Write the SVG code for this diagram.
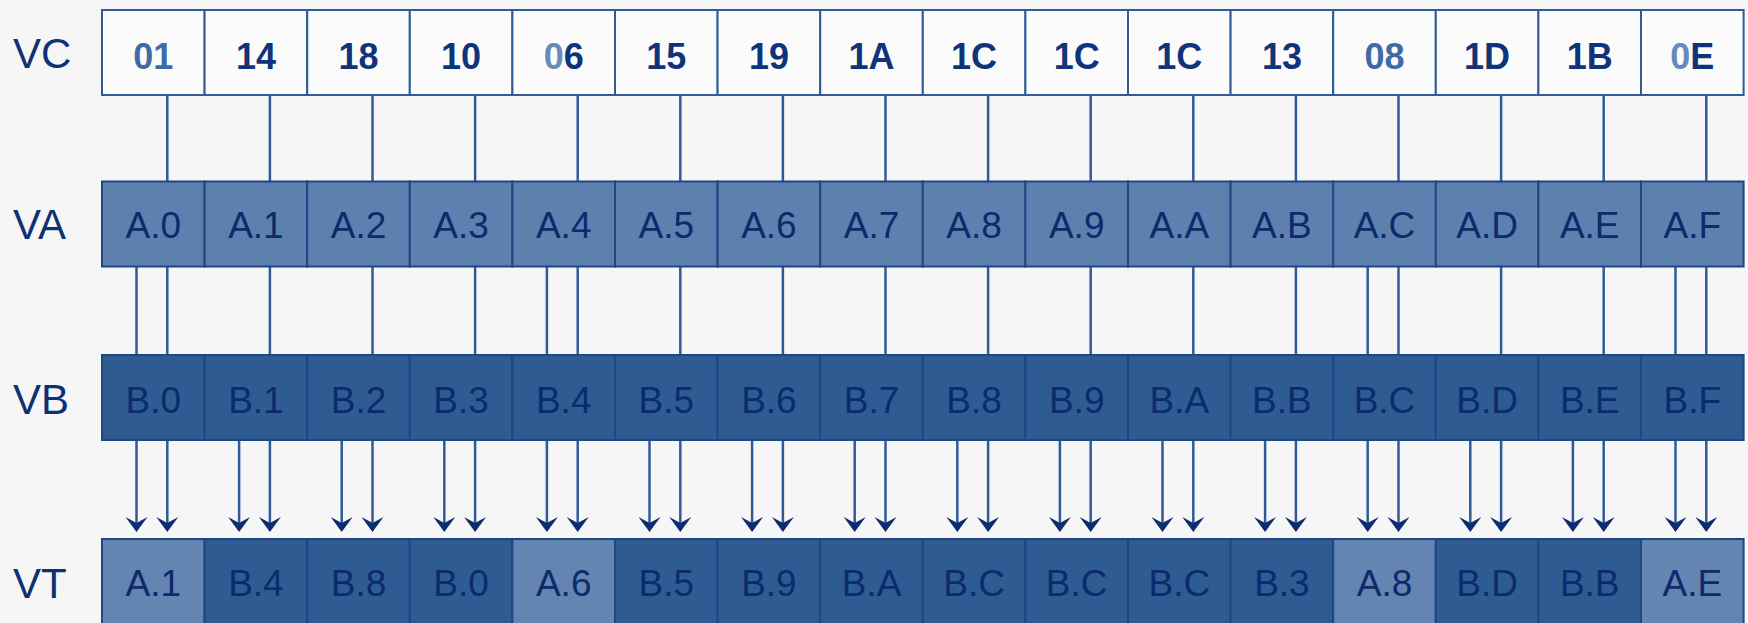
<svg xmlns="http://www.w3.org/2000/svg" width="1748" height="623" viewBox="0 0 1748 623">
<style>
.lbl{font-family:"Liberation Sans",Arial,sans-serif;font-size:42px;fill:#0e3173}
.c{stroke:#1d4785;stroke-width:2}
.vc{fill:#fbfbfb;stroke:#2f5c97;stroke-width:2}
.va{fill:#5e80ae}
.vb{fill:#2e5b92}
.ta{fill:#6484b1}
.t{font-family:"Liberation Sans",Arial,sans-serif;font-size:37px;fill:#0b2b6c;text-anchor:middle}
.b{font-family:"Liberation Sans",Arial,sans-serif;font-size:36px;font-weight:bold;fill:#10347a;text-anchor:middle}
.lt{fill:#6889b9}
.md{fill:#3f6ba5}
.ln{stroke:#2e5b98;stroke-width:2.5;fill:none}
.ar{marker-end:url(#ah)}
</style>
<defs>
<marker id="ah" markerUnits="userSpaceOnUse" viewBox="-16 -12 17 24" markerWidth="17" markerHeight="24" refX="-6" refY="0" orient="auto" overflow="visible">
<path d="M0,0 L-15,-11 L-9,0 L-15,11 Z" fill="#0c2d6e"/>
</marker>
</defs>
<rect x="0" y="0" width="1748" height="623" fill="#f6f6f7"/>

<g id="labels">
<text class="lbl" x="13" y="68">VC</text>
<text class="lbl" x="13" y="239">VA</text>
<text class="lbl" x="13" y="414">VB</text>
<text class="lbl" x="13" y="598">VT</text>
</g>

<g id="connectors">
<!-- VC to VA -->
<g class="ln">
<line x1="167.3" y1="95" x2="167.3" y2="181.5"/>
<line x1="269.9" y1="95" x2="269.9" y2="181.5"/>
<line x1="372.5" y1="95" x2="372.5" y2="181.5"/>
<line x1="475.1" y1="95" x2="475.1" y2="181.5"/>
<line x1="577.7" y1="95" x2="577.7" y2="181.5"/>
<line x1="680.3" y1="95" x2="680.3" y2="181.5"/>
<line x1="782.9" y1="95" x2="782.9" y2="181.5"/>
<line x1="885.5" y1="95" x2="885.5" y2="181.5"/>
<line x1="988.1" y1="95" x2="988.1" y2="181.5"/>
<line x1="1090.7" y1="95" x2="1090.7" y2="181.5"/>
<line x1="1193.3" y1="95" x2="1193.3" y2="181.5"/>
<line x1="1295.9" y1="95" x2="1295.9" y2="181.5"/>
<line x1="1398.5" y1="95" x2="1398.5" y2="181.5"/>
<line x1="1501.1" y1="95" x2="1501.1" y2="181.5"/>
<line x1="1603.7" y1="95" x2="1603.7" y2="181.5"/>
<line x1="1706.3" y1="95" x2="1706.3" y2="181.5"/>
</g>
<!-- VA to VB -->
<g class="ln">
<line x1="136.5" y1="266.5" x2="136.5" y2="355"/>
<line x1="167.3" y1="266.5" x2="167.3" y2="355"/>
<line x1="269.9" y1="266.5" x2="269.9" y2="355"/>
<line x1="372.5" y1="266.5" x2="372.5" y2="355"/>
<line x1="475.1" y1="266.5" x2="475.1" y2="355"/>
<line x1="546.9" y1="266.5" x2="546.9" y2="355"/>
<line x1="577.7" y1="266.5" x2="577.7" y2="355"/>
<line x1="680.3" y1="266.5" x2="680.3" y2="355"/>
<line x1="782.9" y1="266.5" x2="782.9" y2="355"/>
<line x1="885.5" y1="266.5" x2="885.5" y2="355"/>
<line x1="988.1" y1="266.5" x2="988.1" y2="355"/>
<line x1="1090.7" y1="266.5" x2="1090.7" y2="355"/>
<line x1="1193.3" y1="266.5" x2="1193.3" y2="355"/>
<line x1="1295.9" y1="266.5" x2="1295.9" y2="355"/>
<line x1="1367.7" y1="266.5" x2="1367.7" y2="355"/>
<line x1="1398.5" y1="266.5" x2="1398.5" y2="355"/>
<line x1="1501.1" y1="266.5" x2="1501.1" y2="355"/>
<line x1="1603.7" y1="266.5" x2="1603.7" y2="355"/>
<line x1="1675.5" y1="266.5" x2="1675.5" y2="355"/>
<line x1="1706.3" y1="266.5" x2="1706.3" y2="355"/>
</g>
<!-- VB to VT -->
<g class="ln ar">
<line x1="136.5" y1="440" x2="136.5" y2="526"/>
<line x1="167.3" y1="440" x2="167.3" y2="526"/>
<line x1="239.1" y1="440" x2="239.1" y2="526"/>
<line x1="269.9" y1="440" x2="269.9" y2="526"/>
<line x1="341.7" y1="440" x2="341.7" y2="526"/>
<line x1="372.5" y1="440" x2="372.5" y2="526"/>
<line x1="444.3" y1="440" x2="444.3" y2="526"/>
<line x1="475.1" y1="440" x2="475.1" y2="526"/>
<line x1="546.9" y1="440" x2="546.9" y2="526"/>
<line x1="577.7" y1="440" x2="577.7" y2="526"/>
<line x1="649.5" y1="440" x2="649.5" y2="526"/>
<line x1="680.3" y1="440" x2="680.3" y2="526"/>
<line x1="752.1" y1="440" x2="752.1" y2="526"/>
<line x1="782.9" y1="440" x2="782.9" y2="526"/>
<line x1="854.7" y1="440" x2="854.7" y2="526"/>
<line x1="885.5" y1="440" x2="885.5" y2="526"/>
<line x1="957.3" y1="440" x2="957.3" y2="526"/>
<line x1="988.1" y1="440" x2="988.1" y2="526"/>
<line x1="1059.9" y1="440" x2="1059.9" y2="526"/>
<line x1="1090.7" y1="440" x2="1090.7" y2="526"/>
<line x1="1162.5" y1="440" x2="1162.5" y2="526"/>
<line x1="1193.3" y1="440" x2="1193.3" y2="526"/>
<line x1="1265.1" y1="440" x2="1265.1" y2="526"/>
<line x1="1295.9" y1="440" x2="1295.9" y2="526"/>
<line x1="1367.7" y1="440" x2="1367.7" y2="526"/>
<line x1="1398.5" y1="440" x2="1398.5" y2="526"/>
<line x1="1470.3" y1="440" x2="1470.3" y2="526"/>
<line x1="1501.1" y1="440" x2="1501.1" y2="526"/>
<line x1="1572.9" y1="440" x2="1572.9" y2="526"/>
<line x1="1603.7" y1="440" x2="1603.7" y2="526"/>
<line x1="1675.5" y1="440" x2="1675.5" y2="526"/>
<line x1="1706.3" y1="440" x2="1706.3" y2="526"/>
</g>
</g>

<g id="VC">
<g id="vc0"><rect class="vc" x="102" y="10" width="102.6" height="85"/><text class="b" x="153.3" y="69"><tspan class="md">01</tspan></text></g>
<g id="vc1"><rect class="vc" x="204.6" y="10" width="102.6" height="85"/><text class="b" x="255.9" y="69">14</text></g>
<g id="vc2"><rect class="vc" x="307.2" y="10" width="102.6" height="85"/><text class="b" x="358.5" y="69">18</text></g>
<g id="vc3"><rect class="vc" x="409.8" y="10" width="102.6" height="85"/><text class="b" x="461.1" y="69">10</text></g>
<g id="vc4"><rect class="vc" x="512.4" y="10" width="102.6" height="85"/><text class="b" x="563.7" y="69"><tspan class="lt">0</tspan>6</text></g>
<g id="vc5"><rect class="vc" x="615" y="10" width="102.6" height="85"/><text class="b" x="666.3" y="69">15</text></g>
<g id="vc6"><rect class="vc" x="717.6" y="10" width="102.6" height="85"/><text class="b" x="768.9" y="69">19</text></g>
<g id="vc7"><rect class="vc" x="820.2" y="10" width="102.6" height="85"/><text class="b" x="871.5" y="69">1A</text></g>
<g id="vc8"><rect class="vc" x="922.8" y="10" width="102.6" height="85"/><text class="b" x="974.1" y="69">1C</text></g>
<g id="vc9"><rect class="vc" x="1025.4" y="10" width="102.6" height="85"/><text class="b" x="1076.7" y="69">1C</text></g>
<g id="vc10"><rect class="vc" x="1128" y="10" width="102.6" height="85"/><text class="b" x="1179.3" y="69">1C</text></g>
<g id="vc11"><rect class="vc" x="1230.6" y="10" width="102.6" height="85"/><text class="b" x="1281.9" y="69">13</text></g>
<g id="vc12"><rect class="vc" x="1333.2" y="10" width="102.6" height="85"/><text class="b" x="1384.5" y="69"><tspan class="md">08</tspan></text></g>
<g id="vc13"><rect class="vc" x="1435.8" y="10" width="102.6" height="85"/><text class="b" x="1487.1" y="69">1D</text></g>
<g id="vc14"><rect class="vc" x="1538.4" y="10" width="102.6" height="85"/><text class="b" x="1589.7" y="69">1B</text></g>
<g id="vc15"><rect class="vc" x="1641" y="10" width="102.6" height="85"/><text class="b" x="1692.3" y="69"><tspan class="lt">0</tspan>E</text></g>
</g>

<g id="VA">
<g id="va0"><rect class="va c" x="102" y="181.5" width="102.6" height="85"/><text class="t" x="153.3" y="238">A.0</text></g>
<g id="va1"><rect class="va c" x="204.6" y="181.5" width="102.6" height="85"/><text class="t" x="255.9" y="238">A.1</text></g>
<g id="va2"><rect class="va c" x="307.2" y="181.5" width="102.6" height="85"/><text class="t" x="358.5" y="238">A.2</text></g>
<g id="va3"><rect class="va c" x="409.8" y="181.5" width="102.6" height="85"/><text class="t" x="461.1" y="238">A.3</text></g>
<g id="va4"><rect class="va c" x="512.4" y="181.5" width="102.6" height="85"/><text class="t" x="563.7" y="238">A.4</text></g>
<g id="va5"><rect class="va c" x="615" y="181.5" width="102.6" height="85"/><text class="t" x="666.3" y="238">A.5</text></g>
<g id="va6"><rect class="va c" x="717.6" y="181.5" width="102.6" height="85"/><text class="t" x="768.9" y="238">A.6</text></g>
<g id="va7"><rect class="va c" x="820.2" y="181.5" width="102.6" height="85"/><text class="t" x="871.5" y="238">A.7</text></g>
<g id="va8"><rect class="va c" x="922.8" y="181.5" width="102.6" height="85"/><text class="t" x="974.1" y="238">A.8</text></g>
<g id="va9"><rect class="va c" x="1025.4" y="181.5" width="102.6" height="85"/><text class="t" x="1076.7" y="238">A.9</text></g>
<g id="va10"><rect class="va c" x="1128" y="181.5" width="102.6" height="85"/><text class="t" x="1179.3" y="238">A.A</text></g>
<g id="va11"><rect class="va c" x="1230.6" y="181.5" width="102.6" height="85"/><text class="t" x="1281.9" y="238">A.B</text></g>
<g id="va12"><rect class="va c" x="1333.2" y="181.5" width="102.6" height="85"/><text class="t" x="1384.5" y="238">A.C</text></g>
<g id="va13"><rect class="va c" x="1435.8" y="181.5" width="102.6" height="85"/><text class="t" x="1487.1" y="238">A.D</text></g>
<g id="va14"><rect class="va c" x="1538.4" y="181.5" width="102.6" height="85"/><text class="t" x="1589.7" y="238">A.E</text></g>
<g id="va15"><rect class="va c" x="1641" y="181.5" width="102.6" height="85"/><text class="t" x="1692.3" y="238">A.F</text></g>
</g>

<g id="VB">
<g id="vb0"><rect class="vb c" x="102" y="355" width="102.6" height="85"/><text class="t" x="153.3" y="413">B.0</text></g>
<g id="vb1"><rect class="vb c" x="204.6" y="355" width="102.6" height="85"/><text class="t" x="255.9" y="413">B.1</text></g>
<g id="vb2"><rect class="vb c" x="307.2" y="355" width="102.6" height="85"/><text class="t" x="358.5" y="413">B.2</text></g>
<g id="vb3"><rect class="vb c" x="409.8" y="355" width="102.6" height="85"/><text class="t" x="461.1" y="413">B.3</text></g>
<g id="vb4"><rect class="vb c" x="512.4" y="355" width="102.6" height="85"/><text class="t" x="563.7" y="413">B.4</text></g>
<g id="vb5"><rect class="vb c" x="615" y="355" width="102.6" height="85"/><text class="t" x="666.3" y="413">B.5</text></g>
<g id="vb6"><rect class="vb c" x="717.6" y="355" width="102.6" height="85"/><text class="t" x="768.9" y="413">B.6</text></g>
<g id="vb7"><rect class="vb c" x="820.2" y="355" width="102.6" height="85"/><text class="t" x="871.5" y="413">B.7</text></g>
<g id="vb8"><rect class="vb c" x="922.8" y="355" width="102.6" height="85"/><text class="t" x="974.1" y="413">B.8</text></g>
<g id="vb9"><rect class="vb c" x="1025.4" y="355" width="102.6" height="85"/><text class="t" x="1076.7" y="413">B.9</text></g>
<g id="vb10"><rect class="vb c" x="1128" y="355" width="102.6" height="85"/><text class="t" x="1179.3" y="413">B.A</text></g>
<g id="vb11"><rect class="vb c" x="1230.6" y="355" width="102.6" height="85"/><text class="t" x="1281.9" y="413">B.B</text></g>
<g id="vb12"><rect class="vb c" x="1333.2" y="355" width="102.6" height="85"/><text class="t" x="1384.5" y="413">B.C</text></g>
<g id="vb13"><rect class="vb c" x="1435.8" y="355" width="102.6" height="85"/><text class="t" x="1487.1" y="413">B.D</text></g>
<g id="vb14"><rect class="vb c" x="1538.4" y="355" width="102.6" height="85"/><text class="t" x="1589.7" y="413">B.E</text></g>
<g id="vb15"><rect class="vb c" x="1641" y="355" width="102.6" height="85"/><text class="t" x="1692.3" y="413">B.F</text></g>
</g>

<g id="VT">
<g id="vt0"><rect class="ta c" x="102" y="539" width="102.6" height="90"/><text class="t" x="153.3" y="596">A.1</text></g>
<g id="vt1"><rect class="vb c" x="204.6" y="539" width="102.6" height="90"/><text class="t" x="255.9" y="596">B.4</text></g>
<g id="vt2"><rect class="vb c" x="307.2" y="539" width="102.6" height="90"/><text class="t" x="358.5" y="596">B.8</text></g>
<g id="vt3"><rect class="vb c" x="409.8" y="539" width="102.6" height="90"/><text class="t" x="461.1" y="596">B.0</text></g>
<g id="vt4"><rect class="ta c" x="512.4" y="539" width="102.6" height="90"/><text class="t" x="563.7" y="596">A.6</text></g>
<g id="vt5"><rect class="vb c" x="615" y="539" width="102.6" height="90"/><text class="t" x="666.3" y="596">B.5</text></g>
<g id="vt6"><rect class="vb c" x="717.6" y="539" width="102.6" height="90"/><text class="t" x="768.9" y="596">B.9</text></g>
<g id="vt7"><rect class="vb c" x="820.2" y="539" width="102.6" height="90"/><text class="t" x="871.5" y="596">B.A</text></g>
<g id="vt8"><rect class="vb c" x="922.8" y="539" width="102.6" height="90"/><text class="t" x="974.1" y="596">B.C</text></g>
<g id="vt9"><rect class="vb c" x="1025.4" y="539" width="102.6" height="90"/><text class="t" x="1076.7" y="596">B.C</text></g>
<g id="vt10"><rect class="vb c" x="1128" y="539" width="102.6" height="90"/><text class="t" x="1179.3" y="596">B.C</text></g>
<g id="vt11"><rect class="vb c" x="1230.6" y="539" width="102.6" height="90"/><text class="t" x="1281.9" y="596">B.3</text></g>
<g id="vt12"><rect class="ta c" x="1333.2" y="539" width="102.6" height="90"/><text class="t" x="1384.5" y="596">A.8</text></g>
<g id="vt13"><rect class="vb c" x="1435.8" y="539" width="102.6" height="90"/><text class="t" x="1487.1" y="596">B.D</text></g>
<g id="vt14"><rect class="vb c" x="1538.4" y="539" width="102.6" height="90"/><text class="t" x="1589.7" y="596">B.B</text></g>
<g id="vt15"><rect class="ta c" x="1641" y="539" width="102.6" height="90"/><text class="t" x="1692.3" y="596">A.E</text></g>
</g>
</svg>
